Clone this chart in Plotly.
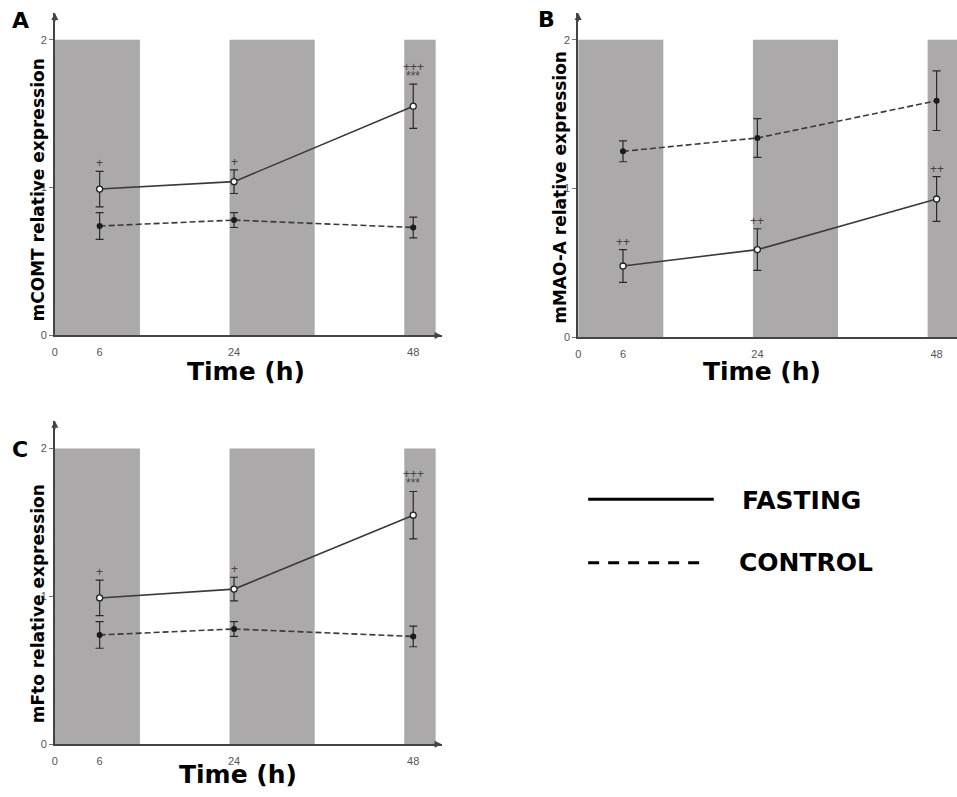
import plotly.graph_objects as go

# ---------------- data ----------------
time_h = [6, 24, 48]
x_tick_vals = [0, 6, 24, 48]
x_tick_text = ["0", "6", "24", "48"]
y_tick_vals = [0, 1, 2]
y_tick_text = ["0", "1", "2"]

# dark (night) periods, hours
dark_start = [0, 23.4, 46.8]
dark_end = [11.4, 34.8, 51.0]
dark_top = 2

# Panel A: mCOMT
comt_fasting = [0.99, 1.04, 1.55]
comt_fasting_err = [0.12, 0.08, 0.15]
comt_control = [0.74, 0.78, 0.73]
comt_control_err = [0.09, 0.05, 0.07]
comt_sig = ["+", "+", "+++|***"]

# Panel B: mMAO-A
mao_fasting = [0.48, 0.59, 0.93]
mao_fasting_err = [0.11, 0.14, 0.15]
mao_control = [1.25, 1.34, 1.59]
mao_control_err = [0.07, 0.13, 0.20]
mao_sig = ["++", "++", "++"]

# Panel C: mFto
fto_fasting = [0.99, 1.05, 1.55]
fto_fasting_err = [0.12, 0.08, 0.16]
fto_control = [0.74, 0.78, 0.73]
fto_control_err = [0.09, 0.05, 0.07]
fto_sig = ["+", "+", "+++|***"]

panel_letters = ["A", "B", "C"]
y_titles = ["mCOMT relative expression", "mMAO-A relative expression", "mFto relative expression"]
x_title = "Time (h)"
legend_names = ["FASTING", "CONTROL"]

# ---------------- figure ----------------
W, H = 957, 797
def px(x): return x / W
def py(y): return 1 - y / H

AX = "#444444"
LINE = "#3a3a3a"
BAND = "#aba9a9"
TITLE_FONT = "DejaVu Sans"
TICK_FONT = "Liberation Sans"

fig = go.Figure()

panels = [
    dict(f=comt_fasting, fe=comt_fasting_err, c=comt_control, ce=comt_control_err, sig=comt_sig,
         xa="x", ya="y", xdom=[px(52), px(440)], xr=[0, 51.8], ydom=[py(338), py(13)], yr=[0, 2.181],
         xarrow=True, ytitle=(35, 191), xtitle=(244, 374), letter=(18, 21)),
    dict(f=mao_fasting, fe=mao_fasting_err, c=mao_control, ce=mao_control_err, sig=mao_sig,
         xa="x2", ya="y2", xdom=[px(577), 1.0], xr=[0, 50.73], ydom=[py(340), py(13)], yr=[0, 2.18],
         xarrow=False, ytitle=(558, 189), xtitle=(761, 374), letter=(545, 20)),
    dict(f=fto_fasting, fe=fto_fasting_err, c=fto_control, ce=fto_control_err, sig=fto_sig,
         xa="x3", ya="y3", xdom=[px(52), px(440)], xr=[0, 51.8], ydom=[py(750), py(424)], yr=[0, 2.188],
         xarrow=True, ytitle=(36, 608), xtitle=(236, 780), letter=(17, 453)),
]

annotations = []
shapes = []

for i, p in enumerate(panels):
    # control (dashed, filled markers)
    fig.add_trace(go.Scatter(
        x=time_h, y=p["c"], xaxis=p["xa"], yaxis=p["ya"], mode="lines+markers",
        line=dict(color=LINE, width=1.6, dash="6px,3px"),
        marker=dict(symbol="circle", size=6, color="#1a1a1a", line=dict(width=0)),
        error_y=dict(type="data", array=p["ce"], color="#2a2a2a", thickness=1.2, width=4),
        showlegend=False, cliponaxis=False))
    # fasting (solid, open markers)
    fig.add_trace(go.Scatter(
        x=time_h, y=p["f"], xaxis=p["xa"], yaxis=p["ya"], mode="lines+markers",
        line=dict(color=LINE, width=1.6),
        marker=dict(symbol="circle", size=6, color="white", line=dict(width=1.3, color="#222222")),
        error_y=dict(type="data", array=p["fe"], color="#2a2a2a", thickness=1.2, width=4),
        showlegend=False, cliponaxis=False))

    # dark-period bands
    for s, e in zip(dark_start, dark_end):
        shapes.append(dict(type="rect", xref=p["xa"], yref=p["ya"], x0=s, x1=min(e, p["xr"][1]),
                           y0=0, y1=dark_top, fillcolor=BAND, line=dict(width=0), layer="below"))

    # significance marks above fasting error bars
    for t, v, er, s in zip(time_h, p["f"], p["fe"], p["sig"]):
        lines = s.split("|")
        for k, txt in enumerate(reversed(lines)):
            annotations.append(dict(x=t, y=v + er, xref=p["xa"], yref=p["ya"], text=txt,
                                    showarrow=False, yanchor="bottom", yshift=-1 + 9 * k,
                                    font=dict(family=TICK_FONT, size=12, color="#444444")))

    # axis arrows
    annotations.append(dict(x=0, y=p["yr"][1], xref=p["xa"], yref=p["ya"], ax=0, ay=10,
                            showarrow=True, arrowhead=2, arrowsize=1, arrowwidth=1.4,
                            arrowcolor=AX, text=""))
    if p["xarrow"]:
        annotations.append(dict(x=p["xr"][1], y=0, xref=p["xa"], yref=p["ya"], ax=-10, ay=0,
                                showarrow=True, arrowhead=2, arrowsize=1, arrowwidth=1.4,
                                arrowcolor=AX, text=""))

    # titles
    annotations.append(dict(x=px(p["ytitle"][0]), y=py(p["ytitle"][1]), xref="paper", yref="paper",
                            text="<b>" + y_titles[i] + "</b>", textangle=-90, showarrow=False,
                            xanchor="center", yanchor="middle",
                            font=dict(family=TITLE_FONT, size=17, color="black")))
    annotations.append(dict(x=px(p["xtitle"][0]), y=py(p["xtitle"][1]), xref="paper", yref="paper",
                            text="<b>" + x_title + "</b>", showarrow=False,
                            xanchor="center", yanchor="middle",
                            font=dict(family=TITLE_FONT, size=25, color="black")))
    annotations.append(dict(x=px(p["letter"][0]), y=py(p["letter"][1]), xref="paper", yref="paper",
                            text="<b>" + panel_letters[i] + "</b>", showarrow=False,
                            xanchor="center", yanchor="middle",
                            font=dict(family=TITLE_FONT, size=22, color="black")))

# legend drawn manually
shapes.append(dict(type="line", xref="paper", yref="paper", x0=px(587), x1=px(713), y0=py(503), y1=py(503),
                   line=dict(color="black", width=3)))
shapes.append(dict(type="line", xref="paper", yref="paper", x0=px(587), x1=px(707), y0=py(567), y1=py(567),
                   line=dict(color="black", width=3, dash="11px,9px")))
annotations.append(dict(x=px(739), y=py(504), xref="paper", yref="paper", text="<b>" + legend_names[0] + "</b>",
                        showarrow=False, xanchor="left", yanchor="middle",
                        font=dict(family=TITLE_FONT, size=25, color="black")))
annotations.append(dict(x=px(736), y=py(567), xref="paper", yref="paper", text="<b>" + legend_names[1] + "</b>",
                        showarrow=False, xanchor="left", yanchor="middle",
                        font=dict(family=TITLE_FONT, size=25, color="black")))

axis_common_x = dict(showgrid=False, zeroline=False, showline=True, linecolor=AX, linewidth=1.5,
                     tickvals=x_tick_vals, ticktext=x_tick_text, ticks="", ticklabelstandoff=6,
                     tickfont=dict(family=TICK_FONT, size=11, color="#555555"), fixedrange=True)
axis_common_y = dict(showgrid=False, zeroline=False, showline=True, linecolor=AX, linewidth=1.5,
                     tickvals=y_tick_vals, ticktext=y_tick_text, ticks="outside", ticklen=4,
                     tickcolor="#777777", tickwidth=1,
                     tickfont=dict(family=TICK_FONT, size=11, color="#555555"), fixedrange=True)

layout = dict(width=W, height=H, margin=dict(l=0, r=0, t=0, b=0),
              paper_bgcolor="white", plot_bgcolor="white", showlegend=False,
              shapes=shapes, annotations=annotations)
names = [("xaxis", "yaxis"), ("xaxis2", "yaxis2"), ("xaxis3", "yaxis3")]
for (xn, yn), p in zip(names, panels):
    layout[xn] = dict(axis_common_x, domain=p["xdom"], range=p["xr"], anchor=p["ya"])
    layout[yn] = dict(axis_common_y, domain=p["ydom"], range=p["yr"], anchor=p["xa"])

fig.update_layout(**layout)
fig.write_html("out.html", config={"displayModeBar": False},
               post_script="document.body.style.margin='0';document.body.style.overflow='hidden';")
